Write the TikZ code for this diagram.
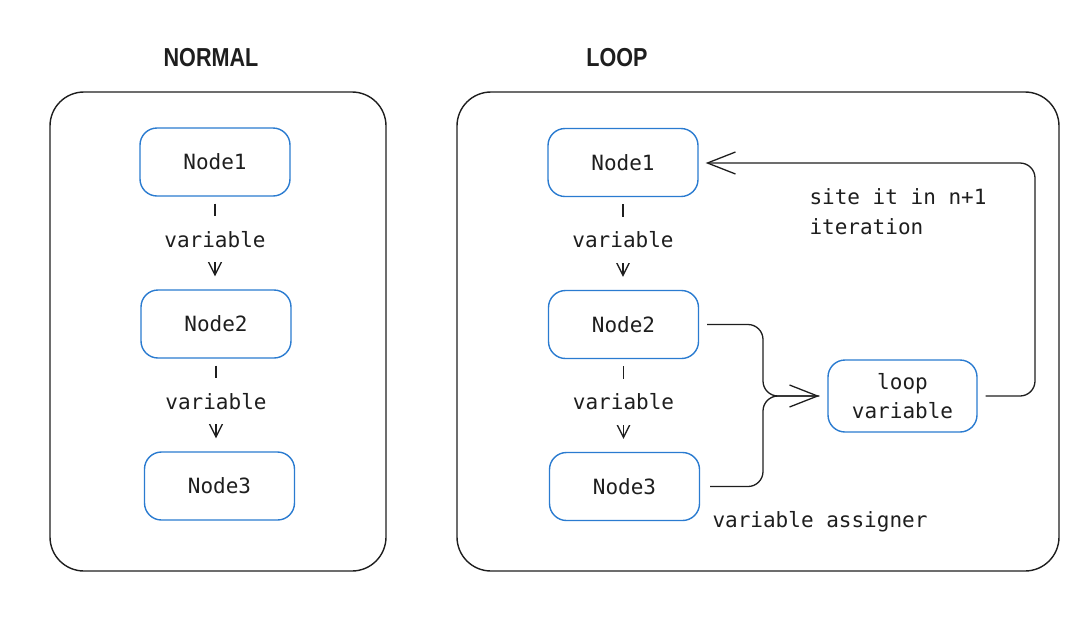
\documentclass[tikz,border=0pt]{standalone}
\usepackage{fontspec}
\setmonofont{DejaVu Sans Mono}
\setsansfont{Liberation Sans}
\usetikzlibrary{arrows.meta}
\definecolor{ink}{HTML}{1E1E1E}
\definecolor{boxblue}{HTML}{2A7BD0}
\tikzset{
  card/.style={draw=boxblue, line width=1.4pt, rounded corners=17pt, minimum width=150pt, minimum height=68pt, inner sep=0pt, font=\fontsize{21}{29}\selectfont\ttfamily, text=ink, align=center},
  frame/.style={draw=ink, line width=1.4pt, rounded corners=34pt},
  title/.style={font=\fontsize{26}{30}\selectfont\sffamily\bfseries, text=ink},
  lbl/.style={font=\fontsize{21}{30}\selectfont\ttfamily, text=ink},
  flow/.style={draw=ink, line width=1.3pt, -{Straight Barb[length=14pt,width=14pt]}, shorten <=7pt, shorten >=13pt},
  link/.style={draw=ink, line width=1.3pt, rounded corners=15pt},
  bigtip/.style={-{Straight Barb[length=28pt,width=22pt]}},
}
\begin{document}
\begin{tikzpicture}[x=1pt,y=-1pt]
\useasboundingbox (0,0) rectangle (1080,625);
% frames
\draw[frame] (50,92) rectangle (386,571);
\draw[frame] (457,92) rectangle (1059,571);
% titles
\node[title] (tn) at (211,58) {\scalebox{0.83}[1]{NORMAL}};
\node[title] (tl) at (617,58) {\scalebox{0.83}[1]{LOOP}};
% left nodes
\node[card] (a1) at (215,162) {Node1};
\node[card] (a2) at (216,324) {Node2};
\node[card] (a3) at (219.5,486) {Node3};
% right nodes
\node[card] (b1) at (623,162.5) {Node1};
\node[card] (b2) at (623.5,324.5) {Node2};
\node[card] (b3) at (624.5,486.5) {Node3};
\node[card, minimum height=72pt, minimum width=149pt] (lv) at (902.5,396) {loop\\variable};
% vertical flows
\draw[flow] (a1.south) -- node[pos=0.46, lbl, fill=white, minimum height=46pt, inner sep=1pt] {variable} (a1.south |- a2.north);
\draw[flow] (a2.south) -- node[pos=0.46, lbl, fill=white, minimum height=46pt, inner sep=1pt] {variable} (a2.south |- a3.north);
\draw[flow] (b1.south) -- node[pos=0.46, lbl, fill=white, minimum height=46pt, inner sep=1pt] {variable} (b1.south |- b2.north);
\draw[flow] (b2.south) -- node[pos=0.46, lbl, fill=white, minimum height=46pt, inner sep=1pt] {variable} (b2.south |- b3.north);
% merge into loop variable
\coordinate (j) at (763,396);
\coordinate (k) at (1035,163);
\draw[link, bigtip, shorten <=8pt, shorten >=8pt] (b2.east) -| (j) -- (lv.west);
\draw[link, shorten <=10pt, shorten >=8pt] (b3.east) -| (j) -- (lv.west);
% loop back
\draw[link, bigtip, shorten <=8pt, shorten >=7pt] (lv.east) -| (k) -- (b1.east |- k);
% labels
\node[lbl, anchor=west, align=left] (it) at (806,212) {site it in n+1\\iteration};
\node[lbl, anchor=west] (va) at (709,522) {variable assigner};
\end{tikzpicture}
\end{document}
